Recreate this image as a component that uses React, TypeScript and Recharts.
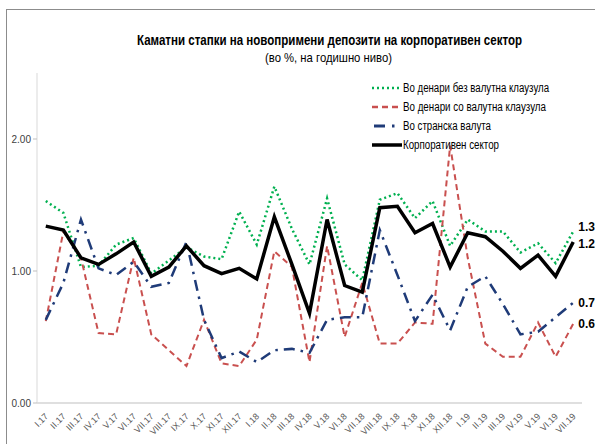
import { LineChart, Line, XAxis, YAxis } from "recharts";

const categories = [
  "I.17", "II.17", "III.17", "IV.17", "V.17", "VI.17", "VII.17", "VIII.17", "IX.17", "X.17", "XI.17", "XII.17",
  "I.18", "II.18", "III.18", "IV.18", "V.18", "VI.18", "VII.18", "VIII.18", "IX.18", "X.18", "XI.18", "XII.18",
  "I.19", "II.19", "III.19", "IV.19", "V.19", "VI.19", "VII.19",
];

// во денари без валутна клаузула
const noClause = [
  1.53, 1.44, 1.03, 1.04, 1.2, 1.25, 0.98, 1.08, 1.18, 1.11, 1.09, 1.45,
  1.2, 1.64, 1.32, 1.05, 1.55, 1.05, 0.93, 1.54, 1.59, 1.4, 1.53, 1.19,
  1.39, 1.3, 1.3, 1.14, 1.21, 1.06, 1.3,
];

// во денари со валутна клаузула
const withClause = [
  0.62, 1.3, 1.1, 0.53, 0.52, 1.1, 0.52, 0.4, 0.28, 0.63, 0.3, 0.28,
  0.48, 1.15, 1.03, 0.31, 1.19, 0.5, 0.91, 0.45, 0.45, 0.61, 0.6, 1.95,
  1.1, 0.45, 0.35, 0.35, 0.61, 0.35, 0.6,
];

// во странска валута
const foreign = [
  0.63, 0.91, 1.39, 1.02, 0.97, 1.07, 0.88, 0.91, 1.22, 0.63, 0.34, 0.39,
  0.31, 0.4, 0.41, 0.38, 0.63, 0.65, 0.65, 1.31, 0.97, 0.62, 0.82, 0.55,
  0.88, 0.96, 0.75, 0.52, 0.54, 0.65, 0.76,
];

// корпоративен сектор
const corporate = [
  1.34, 1.31, 1.1, 1.05, 1.13, 1.22, 0.96, 1.03, 1.19, 1.04, 0.98, 1.02,
  0.94, 1.41, 1.05, 0.68, 1.39, 0.89, 0.84, 1.48, 1.49, 1.29, 1.36, 1.03,
  1.29, 1.26, 1.15, 1.02, 1.12, 0.96, 1.22,
];

const yTicks = [0, 1, 2];

const data = categories.map((cat, i) => ({
  idx: i,
  cat,
  noClause: noClause[i],
  withClause: withClause[i],
  foreign: foreign[i],
  corporate: corporate[i],
}));

const labelTicks = categories.map((_, i) => i);
const boundTicks = [-0.5, ...categories.map((_, i) => i + 0.5)];
const last = categories.length - 1;

const font = "'Liberation Sans', Arial, sans-serif";

const series = [
  { key: "noClause", name: "Во денари без валутна клаузула", color: "#00b050", width: 2.5, dash: "2 3", dy: -4, textW: 146 },
  { key: "withClause", name: "Во денари со валутна клаузула", color: "#c9504f", width: 2, dash: "6 4", dy: 0, textW: 143 },
  { key: "foreign", name: "Во странска валута", color: "#1f3b78", width: 2.5, dash: "11 6 2.5 6", dy: 0, textW: 88 },
  { key: "corporate", name: "Корпоративен сектор", color: "#000000", width: 3.5, dash: undefined, dy: 2, textW: 96 },
];

const endLabel = (dy: number) => (props: any) => {
  const { x, y, value, index } = props;
  if (index !== last) return null;
  return (
    <text x={x + 5} y={y + dy} dy={4} fontSize={12} fontWeight="bold" fill="#000" fontFamily={font}>
      {Number(value).toFixed(2)}
    </text>
  );
};

const CatTick = (props: any) => {
  const { x, y, payload } = props;
  return (
    <g transform={`translate(${x + 3},${y + 6})`}>
      <text textAnchor="end" transform="rotate(-45)" fontSize={9} fill="#595959" fontFamily={font}>
        {categories[payload.value]}
      </text>
    </g>
  );
};

function Overlay() {
  return (
    <svg width={595} height={444} style={{ position: "absolute", left: 0, top: 0, pointerEvents: "none" }}>
      <text x={137} y={45} fontSize={14} fontWeight="bold" fontFamily={font} textLength={385} lengthAdjust="spacingAndGlyphs">
        Каматни стапки на новопримени депозити на корпоративен сектор
      </text>
      <text x={265} y={62} fontSize={13} fontFamily={font} textLength={127} lengthAdjust="spacingAndGlyphs">
        (во %, на годишно ниво)
      </text>
      {series.map((s, i) => {
        const cy = 88 + i * 19;
        return (
          <g key={s.key}>
            {s.key === "foreign" ? (
              <g>
                <line x1={374} y1={cy} x2={385} y2={cy} stroke={s.color} strokeWidth={3} />
                <line x1={392} y1={cy} x2={394.5} y2={cy} stroke={s.color} strokeWidth={3} />
              </g>
            ) : (
              <line
                x1={372}
                y1={cy}
                x2={402}
                y2={cy}
                stroke={s.color}
                strokeWidth={s.key === "corporate" ? 3.5 : 2.5}
                strokeDasharray={s.dash}
              />
            )}
            <text x={403} y={cy + 4} fontSize={12} fontFamily={font} textLength={s.textW} lengthAdjust="spacingAndGlyphs">
              {s.name}
            </text>
          </g>
        );
      })}
    </svg>
  );
}

export default function App() {
  return (
    <div style={{ position: "absolute", left: 0, top: 0, width: 595, height: 444, overflow: "hidden", background: "#fff" }}>
      <div style={{ position: "absolute", left: 6, top: 9, width: 700, height: 600, border: "1px solid #8c8c8c" }} />
      <div style={{ position: "absolute", left: 0, top: 0 }}>
        <LineChart width={595} height={444} data={data} margin={{ top: 73, right: 13, bottom: 0, left: 0 }}>
          <XAxis
            xAxisId="bnd"
            type="number"
            dataKey="idx"
            domain={[-0.5, 30.5]}
            ticks={boundTicks}
            tick={false}
            tickLine={{ stroke: "#bfbfbf" }}
            tickSize={4}
            axisLine={false}
            height={0}
          />
          <XAxis
            xAxisId="lab"
            type="number"
            dataKey="idx"
            domain={[-0.5, 30.5]}
            ticks={labelTicks}
            interval={0}
            tick={<CatTick />}
            tickLine={false}
            axisLine={{ stroke: "#bfbfbf" }}
            height={41}
          />
          <YAxis
            domain={[0, 2.5]}
            ticks={yTicks}
            tickFormatter={(v: number) => v.toFixed(2)}
            width={37}
            tickSize={4}
            axisLine={{ stroke: "#d9d9d9" }}
            tickLine={{ stroke: "#bfbfbf" }}
            tick={{ fontSize: 10, fill: "#404040", fontFamily: font }}
          />
          {series.map((s) => (
            <Line
              key={s.key}
              xAxisId="lab"
              dataKey={s.key}
              name={s.name}
              type="linear"
              stroke={s.color}
              strokeWidth={s.width}
              strokeDasharray={s.dash}
              dot={false}
              activeDot={false}
              label={endLabel(s.dy)}
              isAnimationActive={false}
            />
          ))}
        </LineChart>
      </div>
      <Overlay />
    </div>
  );
}
